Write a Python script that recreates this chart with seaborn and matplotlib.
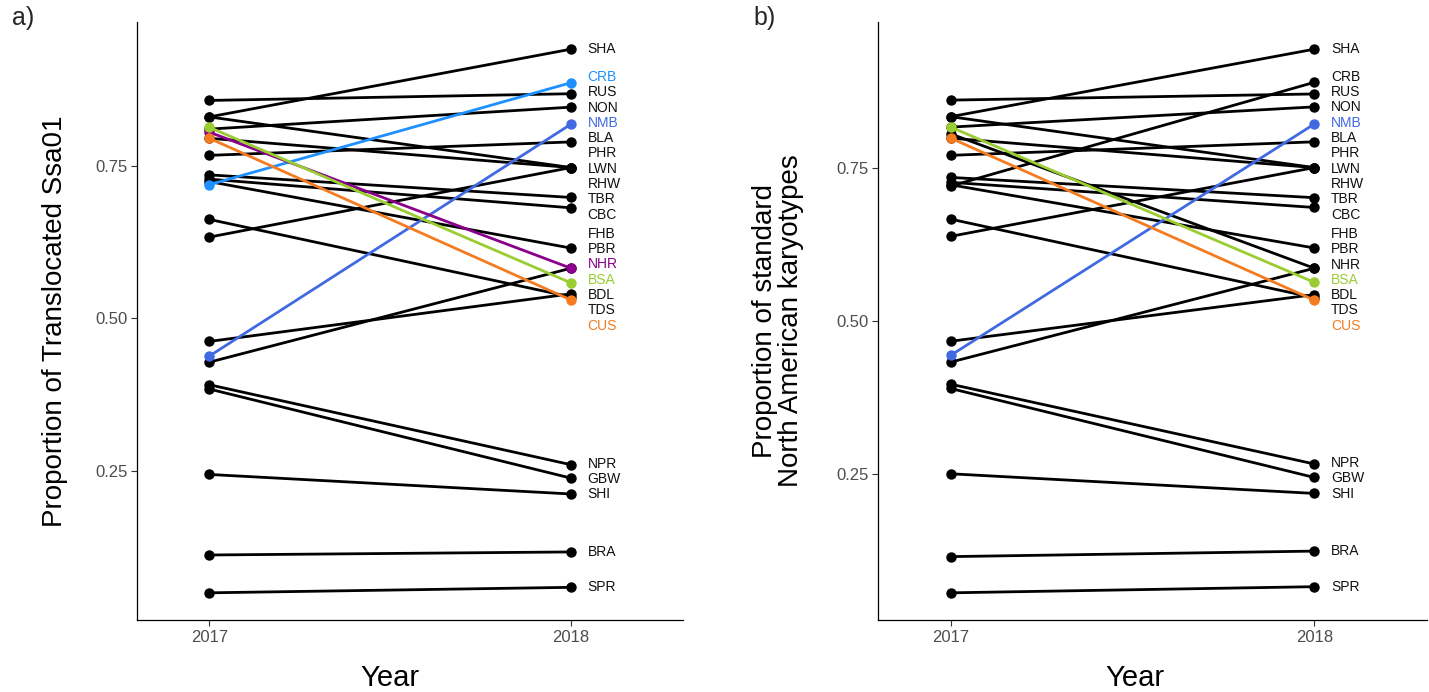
import numpy as np
import pandas as pd
import matplotlib
matplotlib.use("Agg")
import matplotlib.pyplot as plt
import seaborn as sns

# ---------------- data ----------------
pops = ["SHA", "CRB", "RUS", "NON", "NMB", "BLA", "PHR", "LWN", "RHW", "TBR", "CBC", "FHB",
        "PBR", "NHR", "BSA", "BDL", "TDS", "CUS", "NPR", "GBW", "SHI", "BRA", "SPR"]
years = [2017, 2018]

a_2017 = [0.830, 0.719, 0.857, 0.810, 0.438, 0.767, 0.830, 0.795, 0.633, 0.735, 0.728, 0.724,
          0.428, 0.805, 0.813, 0.462, 0.662, 0.795, 0.391, 0.384, 0.244, 0.112, 0.050]
a_2018 = [0.941, 0.886, 0.868, 0.846, 0.818, 0.789, 0.747, 0.747, 0.747, 0.698, 0.681, 0.615,
          0.582, 0.582, 0.558, 0.540, 0.535, 0.530, 0.260, 0.238, 0.212, 0.117, 0.059]

b_2017 = [0.833, 0.720, 0.860, 0.816, 0.444, 0.770, 0.833, 0.798, 0.638, 0.734, 0.726, 0.722,
          0.433, 0.805, 0.816, 0.467, 0.666, 0.798, 0.397, 0.390, 0.251, 0.116, 0.057]
b_2018 = [0.943, 0.889, 0.870, 0.849, 0.821, 0.792, 0.750, 0.750, 0.750, 0.701, 0.685, 0.619,
          0.586, 0.586, 0.563, 0.543, 0.538, 0.534, 0.267, 0.245, 0.219, 0.125, 0.067]

a_highlight = {"CRB": "#1E90FF", "NMB": "#4169E1", "NHR": "#8B008B", "BSA": "#9ACD32", "CUS": "#F47B20"}
b_highlight = {"NMB": "#4169E1", "BSA": "#9ACD32", "CUS": "#F47B20"}

y_ticks = [0.25, 0.50, 0.75]
y_ticklabels = ["0.25", "0.50", "0.75"]
panel_tags = ["a)", "b)"]
ylabels = ["Proportion of Translocated Ssa01", "Proportion of standard\nNorth American karyotypes"]
xlabel = "Year"

# ---------------- style ----------------
sns.set_theme(style="white")
plt.rcParams["font.family"] = ["Liberation Sans", "DejaVu Sans"]

W, H = 1429, 692
fig = plt.figure(figsize=(W / 100, H / 100), dpi=100)

axes_px = [(137, 22, 683, 620), (878, 22, 1427, 620)]  # left, top, right, bottom
ylabel_x_px = [55, 778]
xlabel_x_px = [390, 1135]


def repel(vals, gap):
    vals = np.asarray(vals, dtype=float)
    order = np.argsort(-vals, kind="stable")
    v = vals[order]
    n = len(v)
    t = v + np.arange(n) * gap
    blocks = []
    for x in t:
        blocks.append([x, 1])
        while len(blocks) > 1 and blocks[-2][0] / blocks[-2][1] < blocks[-1][0] / blocks[-1][1]:
            s, c = blocks.pop()
            blocks[-1][0] += s
            blocks[-1][1] += c
    q = np.concatenate([[s / c] * c for s, c in blocks])
    p = q - np.arange(n) * gap
    out = np.empty(n)
    out[order] = p
    return out


datasets = [(a_2017, a_2018, a_highlight), (b_2017, b_2018, b_highlight)]

for i, ((v17, v18, hl), (l, t, r, b)) in enumerate(zip(datasets, axes_px)):
    ax = fig.add_axes([l / W, 1 - b / H, (r - l) / W, (b - t) / H])
    df = pd.DataFrame({
        "pop": pops * 2,
        "year": [years[0]] * len(pops) + [years[1]] * len(pops),
        "value": list(v17) + list(v18),
    })
    palette = {p: hl.get(p, "black") for p in pops}
    hue_order = [p for p in pops if p not in hl] + [p for p in hl]
    sns.lineplot(data=df, x="year", y="value", hue="pop", hue_order=hue_order,
                 palette=palette, marker="o", markersize=7.5, markeredgewidth=0,
                 linewidth=2.0, legend=False, estimator=None, sort=False, ax=ax)

    ax.set_xlim(2016.80, 2018.31)
    ax.set_xticks(years)
    ax.set_xticklabels([str(y) for y in years])
    ax.set_yticks(y_ticks)
    ax.set_yticklabels(y_ticklabels)
    ylim = ax.get_ylim()
    ax.set_ylim(ylim)

    # labels next to 2018 points, spread vertically
    px_per_unit = (b - t) / (ylim[1] - ylim[0])
    gap = 15.3 / px_per_unit
    lab_y = repel(v18, gap)
    for p, yy in zip(pops, lab_y):
        ax.annotate(p, xy=(years[1], yy), xytext=(12.0, 0), textcoords="offset points",
                    va="center", ha="left", fontsize=10, color=hl.get(p, "#111111"),
                    annotation_clip=False)

    for s in ["top", "right"]:
        ax.spines[s].set_visible(False)
    for s in ["left", "bottom"]:
        ax.spines[s].set_color("black")
        ax.spines[s].set_linewidth(0.9)
    ax.tick_params(axis="both", which="both", length=4, width=0.8, color="#333333",
                   labelcolor="#4D4D4D", labelsize=12, pad=3, left=True, bottom=True)

    ax.set_xlabel(xlabel, fontsize=21, color="black")
    ax.xaxis.set_label_coords((xlabel_x_px[i] - l) / (r - l), -(664 - b) / (b - t))
    ax.xaxis.label.set_va("top")
    ax.set_ylabel(ylabels[i], fontsize=20, color="black", linespacing=1.05)
    ax.yaxis.set_label_coords((ylabel_x_px[i] - l) / (r - l), 0.5)
    ax.yaxis.label.set_va("center")

    fig.text((l - 125) / W, 1 - 6 / H, panel_tags[i], fontsize=18, va="top", ha="left")

fig.savefig("out.png", dpi=100)
